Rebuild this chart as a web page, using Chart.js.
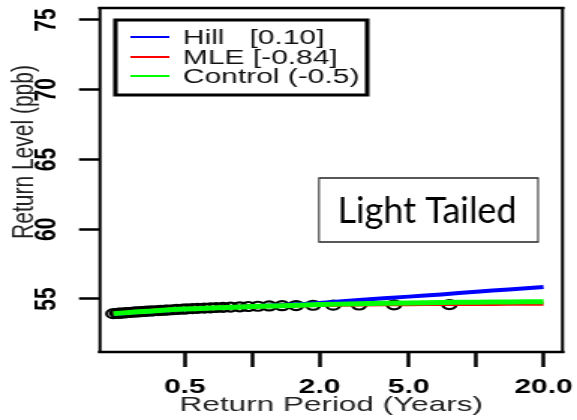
<!DOCTYPE html>
<html>
<head>
<meta charset="utf-8">
<script src="https://cdn.jsdelivr.net/npm/chart.js@4.4.1/dist/chart.umd.min.js"></script>
<style>
  html, body { margin: 0; padding: 0; background: #fff; overflow: hidden; }
  /* the original R figure was stretched sideways, so the canvas is too */
  #wrap { width: 385px; height: 420px; transform-origin: 0 0; transform: scaleX(1.4987); }
</style>
</head>
<body>
<div id="wrap"><canvas id="chart" width="385" height="420"></canvas></div>
<script>
// ------------------ Dados ------------------
// observed return periods (years) and levels (ppb)
const obsT = [0.24, 0.25, 0.255, 0.26, 0.27, 0.275, 0.28, 0.29, 0.30, 0.31, 0.32, 0.33, 0.34, 0.35,
              0.36, 0.38, 0.39, 0.41, 0.42, 0.44, 0.46, 0.49, 0.51, 0.54, 0.57, 0.61, 0.65, 0.69,
              0.74, 0.80, 0.88, 0.96, 1.06, 1.19, 1.36, 1.57, 1.87, 2.3, 3.0, 4.3, 7.6];
const obsY = [53.95, 53.97, 53.98, 53.99, 54.01, 54.02, 54.03, 54.05, 54.07, 54.08, 54.10, 54.11, 54.13, 54.14,
              54.15, 54.17, 54.18, 54.20, 54.21, 54.23, 54.25, 54.27, 54.29, 54.31, 54.33, 54.35, 54.37, 54.39,
              54.40, 54.42, 54.44, 54.46, 54.48, 54.50, 54.52, 54.53, 54.55, 54.56, 54.57, 54.58, 54.60];

// fitted return level curves
const lineT    = [0.24, 0.3, 0.4, 0.5, 0.7, 1, 1.5, 2, 3, 5, 7, 10, 14, 20];
const hillY    = [53.93, 54.04, 54.17, 54.26, 54.37, 54.48, 54.6, 54.72, 54.92, 55.17, 55.33, 55.52, 55.68, 55.86];
const mleY     = [53.95, 54.07, 54.21, 54.29, 54.38, 54.46, 54.53, 54.57, 54.6, 54.63, 54.64, 54.645, 54.65, 54.65];
const controlY = [53.95, 54.06, 54.2, 54.28, 54.37, 54.46, 54.54, 54.6, 54.66, 54.72, 54.75, 54.77, 54.79, 54.8];

const seriesNames = ["Hill   [0.10]", "MLE [-0.84]", "Control (-0.5)"];

// ticks
const xTickValues = [0.5, 1, 2, 5, 10, 20];
const xTickLabels = ["0.5", "", "2.0", "5.0", "", "20.0"];
const yTickValues = [55, 60, 65, 70, 75];

const toXY = (xs, ys) => xs.map((x, i) => ({ x: x, y: ys[i] }));

// ------------------ Plugins ------------------
const SX = 577 / 385;
const FONT = '"Liberation Sans", Arial, sans-serif';

// box round the plot region
const frame = {
    id: 'frame',
    afterDatasetsDraw(chart) {
        const a = chart.chartArea, c = chart.ctx;
        c.save();
        c.strokeStyle = '#000';
        c.lineCap = 'square';
        c.lineWidth = 2.7;
        c.beginPath();
        c.moveTo(a.left, a.top); c.lineTo(a.right, a.top);
        c.moveTo(a.left, a.bottom); c.lineTo(a.right, a.bottom);
        c.stroke();
        c.lineWidth = 2;
        c.beginPath();
        c.moveTo(a.left, a.top); c.lineTo(a.left, a.bottom);
        c.moveTo(a.right, a.top); c.lineTo(a.right, a.bottom);
        c.stroke();
        c.restore();
    }
};

// y title sits a bit above the middle in the original
const yTitle = {
    id: 'yTitle',
    afterDraw(chart) {
        const c = chart.ctx;
        c.save();
        c.translate(16.5, 152);
        c.rotate(-Math.PI / 2);
        c.font = '21px ' + FONT;
        c.fillStyle = '#222';
        c.textAlign = 'center';
        c.textBaseline = 'middle';
        c.fillText('Return Level (ppb)', 0, 0);
        c.restore();
    }
};

// R style legend, top left inside the box
const rLegend = {
    id: 'rLegend',
    afterDraw(chart) {
        const c = chart.ctx;
        c.save();
        c.fillStyle = '#fff';
        c.fillRect(77, 20, 168, 75);
        c.strokeStyle = '#000';
        c.lineWidth = 3;
        c.strokeRect(77, 20, 168, 75);
        c.font = '20px ' + FONT;
        c.textBaseline = 'middle';
        c.fillStyle = '#111';
        const rows = [37, 57, 76];
        chart.data.datasets.slice(1).forEach((ds, i) => {
            c.strokeStyle = ds.borderColor;
            c.lineWidth = 2;
            c.beginPath();
            c.moveTo(87, rows[i]); c.lineTo(113, rows[i]);
            c.stroke();
            c.fillText(ds.label, 122, rows[i] + 1);
        });
        c.restore();
    }
};

// the "Light Tailed" note (not stretched)
const note = {
    id: 'note',
    afterDraw(chart) {
        const c = chart.ctx;
        c.save();
        c.scale(1 / SX, 1);
        c.fillStyle = '#fff';
        c.fillRect(319, 178, 219, 64);
        c.strokeStyle = '#222';
        c.lineWidth = 1.5;
        c.strokeRect(319, 178, 219, 64);
        c.fillStyle = '#000';
        c.font = '36px Lato, "Open Sans", sans-serif';
        c.textAlign = 'center';
        c.textBaseline = 'middle';
        c.fillText('Light Tailed', 427, 211);
        c.restore();
    }
};

// ------------------ Gráfico ------------------
const ctx = document.getElementById('chart').getContext('2d');
new Chart(ctx, {
    type: 'scatter',
    data: {
        datasets: [
            {
                label: 'obs',
                data: toXY(obsT, obsY),
                showLine: false,
                pointStyle: 'circle',
                pointRadius: 4.5,
                pointBorderWidth: 2.2,
                pointBorderColor: '#000',
                pointBackgroundColor: 'rgba(0,0,0,0)',
                order: 3
            },
            {
                label: seriesNames[0],
                data: toXY(lineT, hillY),
                showLine: true,
                borderColor: '#0000ff',
                borderWidth: 4,
                pointRadius: 0,
                tension: 0.3,
                order: 2
            },
            {
                label: seriesNames[1],
                data: toXY(lineT, mleY),
                showLine: true,
                borderColor: '#ff0000',
                borderWidth: 4,
                pointRadius: 0,
                tension: 0.3,
                order: 1
            },
            {
                label: seriesNames[2],
                data: toXY(lineT, controlY),
                showLine: true,
                borderColor: '#00ff00',
                borderWidth: 5,
                pointRadius: 0,
                tension: 0.3,
                order: 0
            }
        ]
    },
    options: {
        responsive: false,
        animation: false,
        layout: { padding: { left: 0, right: 9.7, top: 8, bottom: 0 } },
        plugins: { legend: { display: false }, tooltip: { enabled: false } },
        scales: {
            x: {
                type: 'logarithmic',
                min: 0.209,
                max: 24.3,
                afterBuildTicks: s => { s.ticks = xTickValues.map(v => ({ value: v })); },
                afterFit: s => { s.height = 68; s.paddingLeft = 0; s.paddingRight = 0; },
                grid: { drawOnChartArea: false, drawTicks: true, tickLength: 15, tickWidth: 2.5, tickColor: '#000' },
                border: { display: false },
                ticks: {
                    autoSkip: false,
                    maxRotation: 0,
                    padding: 8,
                    color: '#000',
                    font: { family: FONT, size: 20, weight: 'bold' },
                    callback: (v) => {
                        const i = xTickValues.indexOf(v);
                        return i >= 0 ? xTickLabels[i] : '';
                    }
                },
                title: {
                    display: true,
                    text: 'Return Period (Years)',
                    color: '#222',
                    padding: { top: 0, bottom: 2 },
                    font: { family: FONT, size: 21 }
                }
            },
            y: {
                min: 51.2,
                max: 75.86,
                afterBuildTicks: s => { s.ticks = yTickValues.map(v => ({ value: v })); },
                afterFit: s => { s.width = 66.7; s.paddingTop = 0; s.paddingBottom = 0; },
                grid: { drawOnChartArea: false, drawTicks: true, tickLength: 14, tickWidth: 2.5, tickColor: '#000' },
                border: { display: false },
                ticks: {
                    minRotation: 90,
                    maxRotation: 90,
                    crossAlign: 'center',
                    padding: 10,
                    color: '#000',
                    font: { family: FONT, size: 21, weight: 'bold' }
                },
                title: { display: false }
            }
        }
    },
    plugins: [frame, yTitle, rLegend, note]
});
</script>
</body>
</html>
